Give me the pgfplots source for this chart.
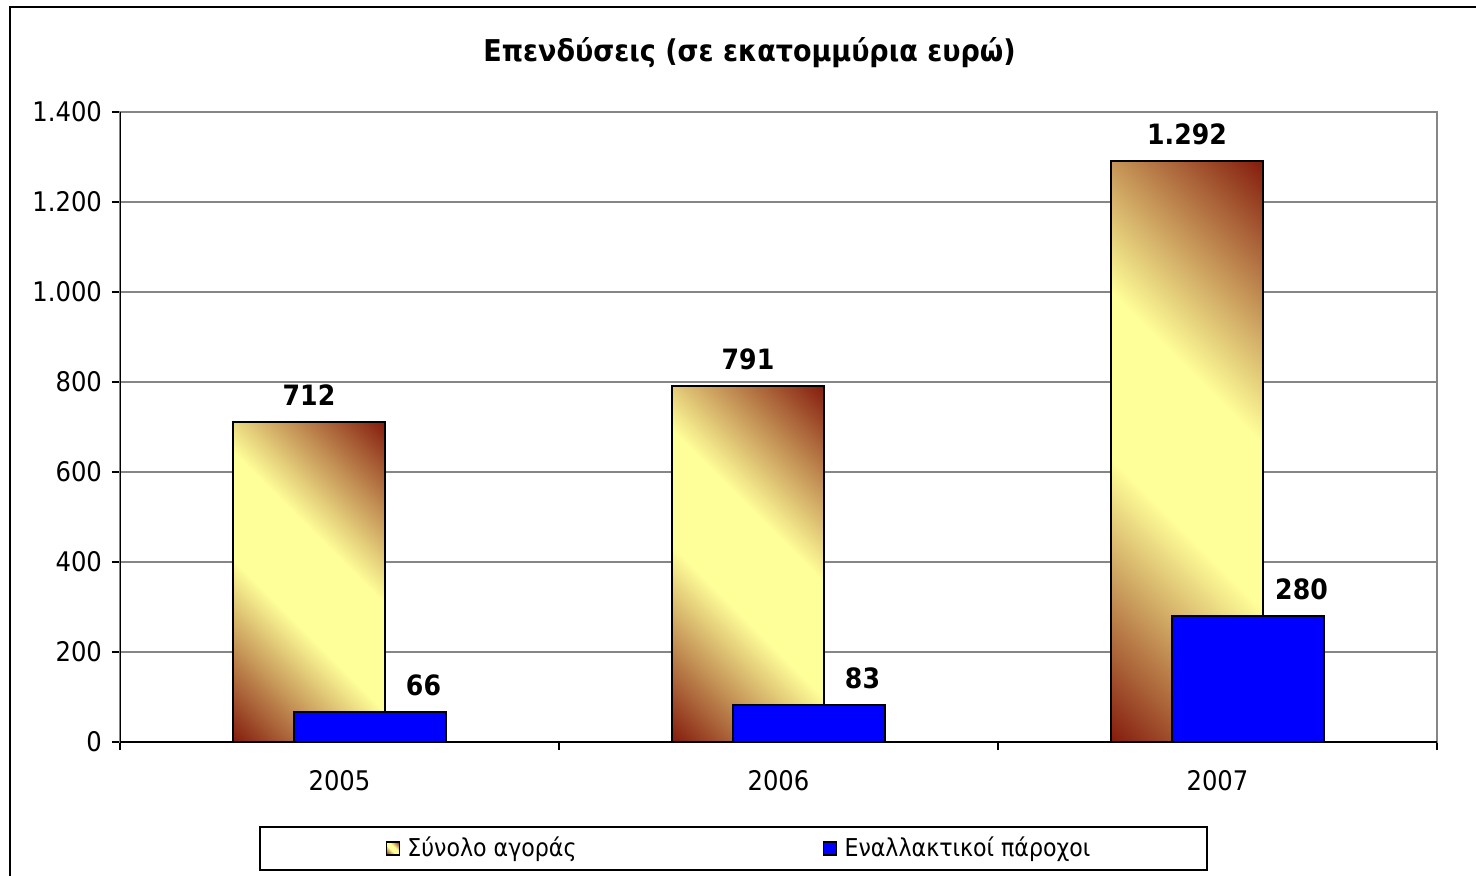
\documentclass[border=0pt]{standalone}
\usepackage{fontspec}
\setmainfont{DejaVu Sans Condensed}
\usepackage{pgfplots}
\pgfplotsset{compat=1.18}
\definecolor{barDark}{RGB}{125,15,5}
\definecolor{barYellow}{RGB}{255,255,153}
\definecolor{gridGray}{RGB}{134,134,134}
\definecolor{barBlue}{RGB}{0,0,255}
\pgfdeclareverticalshading{barshade}{100bp}{color(0bp)=(barDark); color(13bp)=(barDark); color(42bp)=(barYellow); color(58bp)=(barYellow); color(87bp)=(barDark); color(100bp)=(barDark)}
\pgfplotsset{/pgf/number format/.cd, 1000 sep={.}, assume math mode=true}
\pgfplotsset{
  yellowbar/.style={ybar, bar width=0.3462, bar shift=-0.0695, draw=black, line width=1pt,
    shade, shading=barshade, shading angle=-45, nodes near coords,
    every node near coord/.append style={xshift=-15.25pt}},
}

\begin{document}
\begin{tikzpicture}
\useasboundingbox (0,0) rectangle (738pt,-437.5pt);
\draw[line width=1pt] (5pt,-3.5pt) rectangle (760pt,-460pt);
\begin{axis}[
  scale only axis, width=658.5pt, height=315pt,
  at={(60pt,-371pt)}, anchor=south west,
  xmin=-0.5, xmax=2.5, ymin=0, ymax=1400,
  ytick={0,200,...,1400},
  xtick={0,1,2}, xticklabels={2005,2006,2007},
  minor xtick={-0.5,0.5,1.5,2.5},
  major x tick style={draw=none},
  ytick pos=left, xtick pos=left,
  tick align=outside, major tick length=4pt, minor tick length=4pt,
  tick style={black, line width=0.75pt},
  ymajorgrids, grid style={gridGray, line width=1pt},
  axis line style={gridGray, line width=1pt},
  ticklabel style={font=\fontsize{13.5}{16}\selectfont},
  yticklabel style={xshift=-1.5pt},
  xticklabel style={yshift=-6.5pt},
  every axis title shift=0pt,
  title={Επενδύσεις (σε εκατομμύρια ευρώ)},
  title style={at={(0.478,1.095)}, anchor=center, font=\bfseries\fontsize{15}{18}\selectfont},
  legend columns=2,
  legend style={at={(0.4658,-0.169)}, anchor=center, draw=black, line width=1pt,
    inner xsep=56pt, inner ysep=3pt, font=\fontsize{12.3}{15}\selectfont,
    /tikz/every even column/.append style={column sep=114.5pt}},
  legend image code/.code={\path (-6.5pt,0) (8pt,0);
    \draw[#1, line width=0.75pt] (0pt,-3.25pt) rectangle (6.5pt,3.25pt);},
  every node near coord/.append style={font=\bfseries\fontsize{14}{16}\selectfont, inner sep=0pt, anchor=south, yshift=7.5pt, black},
]
\addplot[yellowbar] coordinates {(0,712)};
\addlegendentry{Σύνολο αγοράς}
\addplot[yellowbar, forget plot] coordinates {(1,791)};
\addplot[yellowbar, forget plot] coordinates {(2,1292)};
\addplot[ybar, bar width=0.3462, bar shift=0.0695, draw=black, line width=1pt,
  fill=barBlue, nodes near coords, every node near coord/.append style={xshift=42pt}]
  coordinates {(0,66) (1,83) (2,280)};
\addlegendentry{Εναλλακτικοί πάροχοι}
\draw[black, line width=1pt] (rel axis cs:0,1) -- (rel axis cs:0,0) -- (rel axis cs:1,0);
\end{axis}
\end{tikzpicture}
\end{document}
